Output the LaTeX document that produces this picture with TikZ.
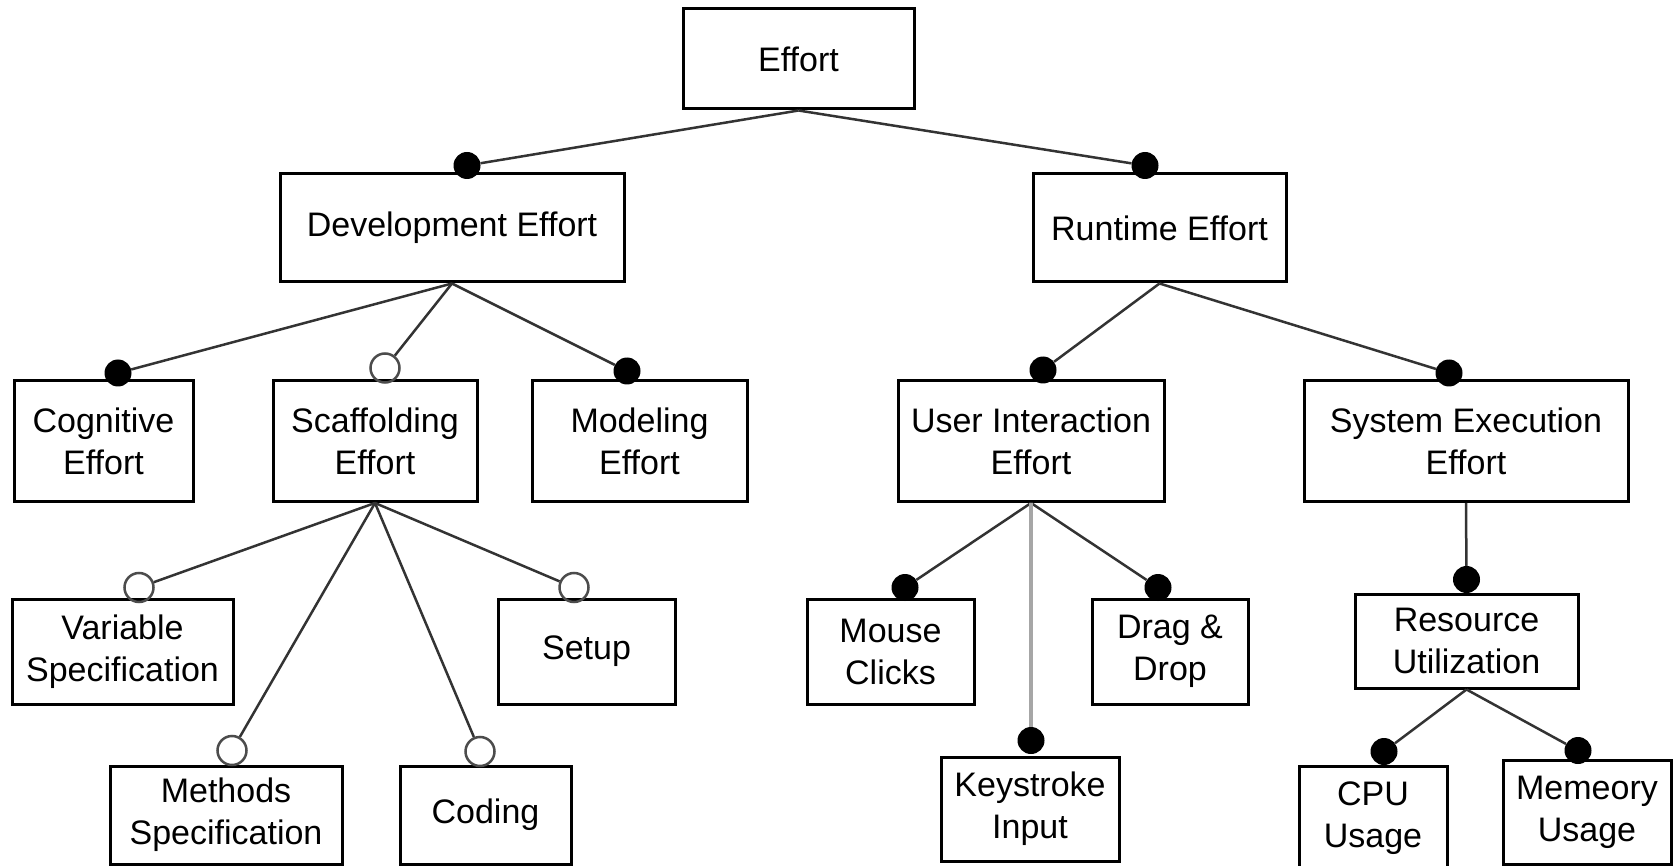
\documentclass[tikz,border=0pt]{standalone}
\usepackage{fontspec}
\setmainfont{Liberation Sans}
\begin{document}
\begin{tikzpicture}[x=1pt,y=-1pt,
  box/.style={draw, line width=3pt, align=center, inner sep=0pt,
    font=\fontsize{34}{42}\selectfont},
  link/.style={draw=black!80, line width=2.5pt},
  lightlink/.style={draw=black!35, line width=4pt},
  fdot/.style={circle, fill=black, inner sep=0pt, minimum size=27pt},
  odot/.style={circle, draw=black!70, line width=2.5pt, inner sep=0pt, minimum size=29pt}]
\clip (0,0) rectangle (1673,866);

% boxes
\node[box, minimum width=231pt, minimum height=100pt] (eff) at (798.5,59) {Effort};
\node[box, minimum width=344pt, minimum height=108pt] (dev) at (452,228) {Development Effort};
\node[box, minimum width=253pt, minimum height=108pt] (run) at (1159.5,228) {Runtime Effort};

\node[box, minimum width=179pt, minimum height=121pt] (cog) at (103.5,441) {Cognitive\\Effort};
\node[box, minimum width=204pt, minimum height=121pt] (scf) at (375,441) {Scaffolding\\Effort};
\node[box, minimum width=215pt, minimum height=121pt] (mod) at (639.5,441) {Modeling\\Effort};
\node[box, minimum width=266pt, minimum height=121pt] (uie) at (1031,441) {User Interaction\\Effort};
\node[box, minimum width=324pt, minimum height=121pt] (sys) at (1466,441) {System Execution\\Effort};

\node[box, minimum width=221pt, minimum height=105pt] (var) at (122.5,651.5) {Variable\\Specification};
\node[box, minimum width=177pt, minimum height=105pt] (set) at (586.5,651.5) {Setup};
\node[box, minimum width=232pt, minimum height=98pt] (met) at (226,815) {Methods\\Specification};
\node[box, minimum width=171pt, minimum height=98pt] (cod) at (485.5,815) {Coding};

\node[box, minimum width=167pt, minimum height=105pt] (mou) at (890.5,651.5) {Mouse\\Clicks};
\node[box, minimum width=156pt, minimum height=105pt] (drg) at (1170,651.5) {Drag \&\\Drop};
\node[box, minimum width=178pt, minimum height=104pt] (key) at (1030,809) {Keystroke\\Input};

\node[box, minimum width=223pt, minimum height=94pt] (res) at (1466.5,641) {Resource\\Utilization};
\node[box, minimum width=148pt, minimum height=104pt] (cpu) at (1373,818) {CPU\\Usage};
\node[box, minimum width=168pt, minimum height=104pt] (memu) at (1587,812) {Memeory\\Usage};

% end markers on the child boxes
\node[fdot] (d-dev) at ([xshift=15pt,yshift=7pt]dev.north) {};
\node[fdot] (d-run) at ([xshift=-14.5pt,yshift=7pt]run.north) {};
\node[fdot] (d-cog) at ([xshift=14.5pt,yshift=6pt]cog.north) {};
\node[odot] (d-scf) at ([xshift=10pt,yshift=11pt]scf.north) {};
\node[fdot] (d-mod) at ([xshift=-12.5pt,yshift=8pt]mod.north) {};
\node[fdot] (d-uie) at ([xshift=12pt,yshift=9pt]uie.north) {};
\node[fdot] (d-sys) at ([xshift=-17pt,yshift=6pt]sys.north) {};
\node[odot] (d-var) at ([xshift=16.5pt,yshift=10pt]var.north) {};
\node[odot] (d-set) at ([xshift=-12.5pt,yshift=10pt]set.north) {};
\node[odot] (d-met) at ([xshift=6pt,yshift=14pt]met.north) {};
\node[odot] (d-cod) at ([xshift=-5.5pt,yshift=13pt]cod.north) {};
\node[fdot] (d-mou) at ([xshift=14.5pt,yshift=10pt]mou.north) {};
\node[fdot] (d-drg) at ([xshift=-12pt,yshift=10pt]drg.north) {};
\node[fdot] (d-key) at ([xshift=1pt,yshift=15pt]key.north) {};
\node[fdot] (d-res) at ([xshift=0pt,yshift=13pt]res.north) {};
\node[fdot] (d-cpu) at ([xshift=11pt,yshift=13pt]cpu.north) {};
\node[fdot] (d-mem) at ([xshift=-9pt,yshift=8pt]memu.north) {};

% connectors
\draw[link] (eff.south) -- (d-dev);
\draw[link] (eff.south) -- (d-run);
\draw[link] (dev.south) -- (d-cog);
\draw[link] (dev.south) -- (d-scf);
\draw[link] (dev.south) -- (d-mod);
\draw[link] (run.south) -- (d-uie);
\draw[link] (run.south) -- (d-sys);
\draw[link] (scf.south) -- (d-var);
\draw[link] (scf.south) -- (d-set);
\draw[link] (scf.south) -- (d-met);
\draw[link] (scf.south) -- (d-cod);
\draw[link] (uie.south) -- (d-mou);
\draw[link] (uie.south) -- (d-drg);
\draw[lightlink] (uie.south) -- (d-key);
\draw[link] (sys.south) -- (d-res);
\draw[link] (res.south) -- (d-cpu);
\draw[link] (res.south) -- (d-mem);
\end{tikzpicture}
\end{document}
